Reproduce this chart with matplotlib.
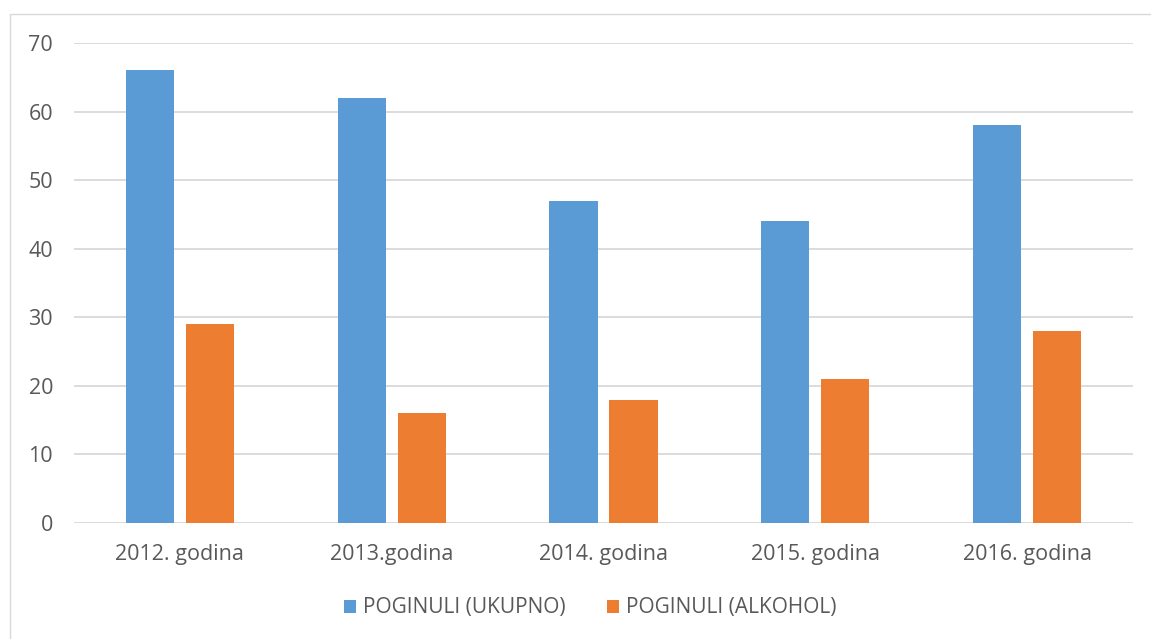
import numpy as np
import matplotlib
matplotlib.use("Agg")
import matplotlib.pyplot as plt
from matplotlib.patches import Rectangle

plt.rcParams['font.family'] = ['Open Sans', 'DejaVu Sans']

godine = ["2012. godina", "2013.godina", "2014. godina", "2015. godina", "2016. godina"]
ukupno = [66, 62, 47, 44, 58]
alkohol = [29, 16, 18, 21, 28]

W, H = 1151, 639
fig = plt.figure(figsize=(W / 100, H / 100), dpi=100)
fig.patches.append(Rectangle((10 / W, -0.1), 1.2, 1.1 - 14 / H, transform=fig.transFigure,
                             fill=False, edgecolor="#d9d9d9", linewidth=1))

ax = fig.add_axes([74 / W, 1 - 523 / H, (1133 - 74) / W, (523 - 43) / H])
x = np.arange(len(godine))
sirina = 0.227
pomak = 0.1417
ax.bar(x - pomak, ukupno, sirina, color="#5b9bd5", label="POGINULI (UKUPNO)", zorder=3)
ax.bar(x + pomak, alkohol, sirina, color="#ed7d31", label="POGINULI (ALKOHOL)", zorder=3)

ax.set_xlim(-0.5, len(godine) - 0.5)
ax.set_ylim(0, 70)
ax.set_yticks(range(0, 71, 10))
ax.set_xticks(x)
ax.set_xticklabels(godine)
ax.yaxis.grid(True, color="#d9d9d9", linewidth=1.3, zorder=0)
for s in ax.spines.values():
    s.set_visible(False)
ax.tick_params(length=0, labelsize=15.5, colors="#595959")
ax.tick_params(axis="y", pad=15)
ax.tick_params(axis="x", pad=15)

fig.legend(loc="center", bbox_to_anchor=(590 / W, 1 - 608 / H), ncol=2, frameon=False,
           fontsize=15, labelcolor="#595959", handlelength=0.6, handleheight=0.6,
           handletextpad=0.3, columnspacing=2.0)

fig.savefig("out.png", dpi=100)
